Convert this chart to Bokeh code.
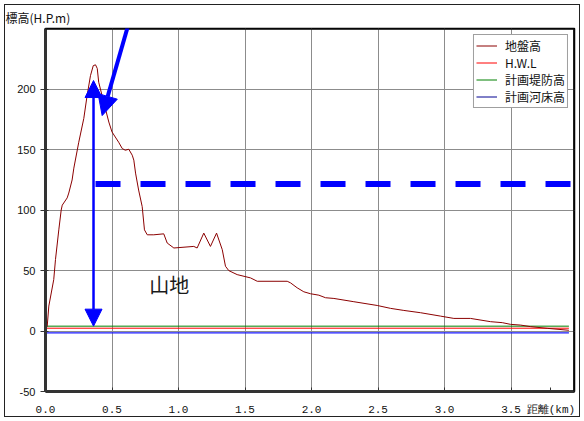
from bokeh.plotting import figure
from bokeh.models import (Range1d, FixedTicker, Label, Arrow, NormalHead, Legend,
                          LegendItem, NumeralTickFormatter, Span)
from bokeh.embed import file_html
from bokeh.resources import INLINE

# ---- data: ground profile (地盤高) ----
ground_x = [0.0, 0.013, 0.025, 0.062, 0.075, 0.10, 0.118, 0.126, 0.163, 0.175, 0.20,
            0.213, 0.25, 0.288, 0.313, 0.338, 0.359, 0.376, 0.389, 0.40, 0.438, 0.476,
            0.50, 0.55, 0.577, 0.60, 0.626, 0.652, 0.664, 0.677, 0.70, 0.727, 0.744,
            0.765, 0.814, 0.889, 0.915, 0.965, 1.115, 1.14, 1.19, 1.24, 1.286, 1.329,
            1.353, 1.378, 1.441, 1.541, 1.592, 1.817, 1.842, 1.892, 1.942, 1.992, 2.055,
            2.105, 2.168, 2.318, 2.494, 2.594, 2.694, 2.82, 2.97, 3.07, 3.195, 3.346,
            3.434, 3.496, 3.571, 3.647, 3.772, 3.935]
ground_y = [1.0, 4.1, 20.6, 42.5, 59.0, 83.6, 100.0, 104.0, 110.0, 114.0, 124.8,
            134.6, 156.0, 175.7, 194.7, 211.0, 219.3, 220.0, 217.0, 205.6, 189.0, 172.7,
            164.5, 156.0, 150.8, 149.4, 150.2, 145.3, 141.2, 130.5, 116.5, 102.8, 83.6,
            79.5, 79.5, 80.3, 72.7, 68.6, 69.9, 68.6, 80.9, 69.9, 80.9, 67.2,
            53.5, 49.9, 46.6, 43.9, 41.1, 41.1, 39.8, 35.7, 32.4, 30.8, 29.6,
            27.5, 26.9, 24.2, 21.1, 18.7, 17.0, 15.1, 12.3, 10.4, 10.4, 7.7,
            6.9, 5.5, 4.9, 3.6, 2.2, 0.6]

# ---- data: planning lines ----
plan_x = [0.0, 3.935]
hwl_y = [2.3, 2.3]          # H.W.L
levee_y = [4.0, 4.0]        # 計画堤防高
bed_y = [-1.5, -1.5]        # 計画河床高

legend_labels = ["地盤高", "H.W.L", "計画堤防高", "計画河床高"]

x_ticks = [0.0, 0.5, 1.0, 1.5, 2.0, 2.5, 3.0, 3.5]
y_ticks = [-50, 0, 50, 100, 150, 200]
x_max = 3.977
y_min, y_max = -50, 250
x_title_pos = 3.80
x_title = "距離(km)"
y_title = "標高(H.P.m)"

# ---- annotations ----
dash_x = [0.376, 3.96]
dash_y = [121.5, 121.5]
vert_arrow_x = [0.361, 0.361]
vert_arrow_y = [4.0, 207.0]
diag_arrow_x = [0.68, 0.426]
diag_arrow_y = [275.0, 178.0]
mountain_text = "山地"
mountain_pos = [0.78, 38.4]

JP = "Noto Sans CJK JP"

p = figure(width=584, height=421, output_backend="svg", toolbar_location=None,
           x_range=Range1d(0, x_max), y_range=Range1d(y_min, y_max),
           min_border_left=45, min_border_right=10, min_border_top=28,
           min_border_bottom=30)
p.background_fill_color = "white"
p.border_fill_color = None
p.outline_line_color = "#000000"
p.outline_line_width = 1.5
p.styles = {"background-color": "white",
            "box-shadow": "inset 0 0 0 4px white, inset 0 0 0 5px #222"}

p.title.text = y_title
p.title.align = "left"
p.title.offset = -40
p.title.standoff = 5
p.title.text_font = JP
p.title.text_font_style = "normal"
p.title.text_font_size = "12px"
p.title.text_color = "#111111"

p.xaxis.ticker = FixedTicker(ticks=x_ticks + [x_title_pos])
p.xgrid.ticker = FixedTicker(ticks=x_ticks)
p.yaxis.ticker = FixedTicker(ticks=y_ticks)
p.xaxis.formatter = NumeralTickFormatter(format="0.0")
p.xaxis.major_label_overrides = {x_title_pos: x_title}
p.yaxis.formatter = NumeralTickFormatter(format="0")
p.xgrid.grid_line_color = "#8c8c8c"
p.ygrid.grid_line_color = "#8c8c8c"

for ax in (p.xaxis, p.yaxis):
    ax.axis_line_color = "#333333"
    ax.axis_line_width = 3
    ax.major_tick_line_color = "#333333"
    ax.minor_tick_line_color = None
    ax.major_label_text_color = "#111111"
    ax.major_label_text_font_size = "11px"

p.xaxis.major_tick_in = 4
p.xaxis.major_tick_out = 0
p.xaxis.major_label_standoff = 12
p.xaxis.major_label_text_font = "Liberation Mono"
p.yaxis.major_tick_in = 3
p.yaxis.major_tick_out = 5
p.yaxis.major_label_standoff = 5
p.yaxis.major_label_text_font = "Liberation Sans"

# frame top / right edges (just inside the frame)
p.add_layout(Span(location=y_max - 0.5, dimension="width", line_color="#111111", line_width=1.5))
p.add_layout(Span(location=x_max - 0.005, dimension="height", line_color="#111111", line_width=1.5))

# planning lines
r_hwl = p.line(plan_x, hwl_y, line_color="#ff0000", line_width=1)
r_levee = p.line(plan_x, levee_y, line_color="#008000", line_width=1)
r_bed = p.line(plan_x, bed_y, line_color="#1a1aff", line_width=1.2)
r_bed_leg = p.line([-2, -1], [-100, -100], line_color="#000090", line_width=1)
# ground
r_ground = p.line(ground_x, ground_y, line_color="#8b0000", line_width=1)

# dashed thick line
p.line(dash_x, dash_y, line_color="#0000ff", line_width=6, line_dash="25 20")

# arrows
p.add_layout(Arrow(start=NormalHead(size=17, fill_color="#0000ff", line_color="#0000ff", line_width=1),
                   end=NormalHead(size=17, fill_color="#0000ff", line_color="#0000ff", line_width=1),
                   x_start=vert_arrow_x[0], y_start=vert_arrow_y[0],
                   x_end=vert_arrow_x[1], y_end=vert_arrow_y[1],
                   line_color="#0000ff", line_width=2.5))
p.add_layout(Arrow(end=NormalHead(size=20, fill_color="#0000ff", line_color="#0000ff", line_width=1),
                   x_start=diag_arrow_x[0], y_start=diag_arrow_y[0],
                   x_end=diag_arrow_x[1], y_end=diag_arrow_y[1],
                   line_color="#0000ff", line_width=4))

p.add_layout(Label(x=mountain_pos[0], y=mountain_pos[1], text=mountain_text,
                   text_font=JP, text_font_size="20px", text_color="#1a1a1a",
                   text_align="left", text_baseline="middle"))

legend = Legend(items=[
    LegendItem(label=legend_labels[0], renderers=[r_ground]),
    LegendItem(label=legend_labels[1], renderers=[r_hwl]),
    LegendItem(label=legend_labels[2], renderers=[r_levee]),
    LegendItem(label=legend_labels[3], renderers=[r_bed_leg]),
], location="top_right")
legend.margin = 6
legend.padding = 2
legend.spacing = 0
legend.glyph_width = 21
legend.glyph_height = 13
legend.label_height = 13
legend.label_standoff = 8
legend.label_text_font = JP
legend.label_text_font_size = "12px"
legend.label_text_color = "#111111"
legend.border_line_color = "#404040"
legend.border_line_width = 1
legend.background_fill_color = "white"
legend.background_fill_alpha = 1.0
p.add_layout(legend)

open("out.html", "w").write(file_html(p, INLINE))
